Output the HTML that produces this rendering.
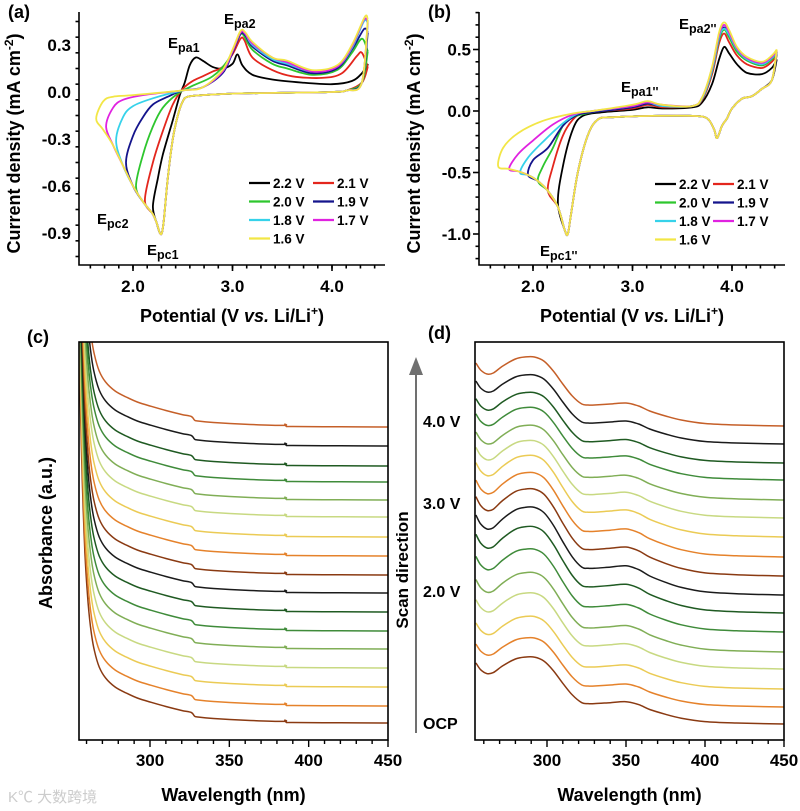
<!DOCTYPE html>
<html><head><meta charset="utf-8"><style>
body{margin:0;background:#fff}
svg{display:block;font-family:"Liberation Sans","Noto Sans CJK SC",sans-serif;font-weight:bold}
</style></head><body>
<svg id="fig" width="800" height="811" viewBox="0 0 800 811" xmlns="http://www.w3.org/2000/svg">
<rect width="800" height="811" fill="#fff"/>
<g id="pa"></g>
<g id="pb"></g>
<g id="pc"></g>
<g id="pd"></g>
<text x="8" y="802" font-size="15" fill="#ccc" font-weight="normal">K℃ 大数跨境</text>
</svg>
<script>
// ---------- DATA ----------
const cvLabels = ["2.2 V","2.1 V","2.0 V","1.9 V","1.8 V","1.7 V","1.6 V"];
const cvColors = ["#000000","#e3261d","#2ec62e","#14148c","#36d2ea","#e022e0","#f2e646"];
const aCath = [[4.3,0.06],[4.15,0.01],[4.0,0],[3.5,-0.005],[3.0,-0.01],[2.7,-0.02],[2.55,-0.03],[2.5,-0.06],[2.45,-0.15],[2.4,-0.3],[2.35,-0.55],[2.31,-0.82],[2.29,-0.9],[2.27,-0.9],[2.24,-0.84],[2.2,-0.78],[2.1,-0.7],[2.0,-0.6],[1.9,-0.47],[1.8,-0.34],[1.7,-0.24],[1.63,-0.17]];
const aVertex = [2.2,2.12,2.03,1.93,1.83,1.73,1.63];
const aAn22 = [[2.2,-0.73],[2.25,-0.55],[2.3,-0.4],[2.4,-0.18],[2.47,-0.02],[2.52,0.06],[2.57,0.17],[2.63,0.22],[2.7,0.2],[2.8,0.16],[2.9,0.15],[3.0,0.18],[3.05,0.24],[3.1,0.17],[3.2,0.11],[3.4,0.08],[3.7,0.06],[4.0,0.05],[4.2,0.07],[4.3,0.12],[4.36,0.18]];
const aAn21 = [[2.12,-0.69],[2.2,-0.45],[2.3,-0.25],[2.4,-0.08],[2.5,0.02],[2.6,0.07],[2.7,0.1],[2.8,0.13],[2.9,0.16],[3.0,0.24],[3.08,0.34],[3.12,0.33],[3.2,0.22],[3.4,0.14],[3.6,0.1],[3.9,0.09],[4.1,0.12],[4.25,0.23],[4.3,0.25],[4.36,0.16]];
const aAn20 = [[2.03,-0.6],[2.1,-0.4],[2.2,-0.22],[2.3,-0.1],[2.45,-0.01],[2.6,0.04],[2.8,0.1],[2.95,0.2],[3.05,0.33],[3.1,0.37],[3.2,0.27],[3.4,0.18],[3.55,0.15],[3.8,0.11],[4.05,0.14],[4.2,0.25],[4.3,0.34],[4.36,0.26]];
const aAn19 = [[1.93,-0.45],[2.0,-0.28],[2.1,-0.16],[2.2,-0.08],[2.35,-0.03],[2.5,0.01],[2.7,0.03],[2.9,0.12],[3.0,0.25],[3.08,0.37],[3.13,0.36],[3.2,0.29],[3.4,0.2],[3.55,0.17],[3.8,0.12],[4.05,0.15],[4.2,0.27],[4.32,0.4],[4.36,0.38]];
const aAn18 = [[1.83,-0.31],[1.9,-0.16],[2.0,-0.09],[2.2,-0.04],[2.5,0.01],[2.7,0.03],[2.9,0.13],[3.0,0.26],[3.08,0.38],[3.13,0.37],[3.2,0.3],[3.4,0.21],[3.55,0.18],[3.8,0.13],[4.05,0.16],[4.2,0.28],[4.32,0.45],[4.36,0.44]];
const aAn17 = [[1.73,-0.22],[1.8,-0.1],[1.9,-0.05],[2.1,-0.02],[2.5,0.01],[2.7,0.03],[2.9,0.13],[3.0,0.26],[3.08,0.38],[3.13,0.37],[3.2,0.31],[3.4,0.22],[3.55,0.19],[3.8,0.13],[4.05,0.16],[4.2,0.29],[4.32,0.46],[4.36,0.45]];
const aAn16 = [[1.63,-0.17],[1.7,-0.06],[1.8,-0.03],[2.0,-0.02],[2.5,0.01],[2.7,0.03],[2.9,0.14],[3.0,0.27],[3.08,0.39],[3.13,0.38],[3.2,0.32],[3.4,0.22],[3.55,0.2],[3.8,0.14],[4.05,0.17],[4.2,0.3],[4.33,0.48],[4.36,0.46]];
const bCath = [[4.4,0.25],[4.3,0.18],[4.2,0.12],[4.1,0.1],[4.0,0.02],[3.95,-0.06],[3.9,-0.12],[3.85,-0.22],[3.82,-0.15],[3.75,-0.06],[3.6,-0.04],[3.2,-0.04],[2.8,-0.05],[2.65,-0.07],[2.55,-0.2],[2.45,-0.5],[2.38,-0.85],[2.35,-1.0],[2.32,-0.97],[2.25,-0.78],[2.15,-0.65],[2.05,-0.57],[1.95,-0.52],[1.85,-0.49],[1.75,-0.47],[1.65,-0.45]];
const bVertex = [2.25,2.15,2.05,1.95,1.87,1.76,1.65];
const bAn22 = [[2.25,-0.75],[2.3,-0.45],[2.4,-0.15],[2.5,-0.04],[2.7,-0.01],[3.0,0.01],[3.15,0.03],[3.3,0.02],[3.6,0.03],[3.7,0.07],[3.8,0.22],[3.87,0.42],[3.92,0.52],[3.97,0.47],[4.05,0.38],[4.15,0.31],[4.3,0.3],[4.4,0.35],[4.45,0.42]];
const bAn21 = [[2.15,-0.65],[2.2,-0.45],[2.3,-0.2],[2.4,-0.07],[2.5,-0.02],[2.7,0],[3.0,0.02],[3.15,0.05],[3.3,0.03],[3.6,0.04],[3.7,0.09],[3.8,0.3],[3.87,0.55],[3.92,0.63],[3.97,0.56],[4.05,0.45],[4.15,0.38],[4.3,0.35],[4.4,0.4],[4.45,0.46]];
const bAn20 = [[2.05,-0.57],[2.1,-0.45],[2.2,-0.3],[2.3,-0.12],[2.4,-0.05],[2.6,-0.01],[3.0,0.03],[3.15,0.06],[3.3,0.04],[3.6,0.04],[3.7,0.1],[3.8,0.32],[3.87,0.58],[3.92,0.66],[3.97,0.6],[4.05,0.48],[4.15,0.41],[4.3,0.37],[4.4,0.42],[4.45,0.47]];
const bAn19 = [[1.95,-0.52],[2.0,-0.4],[2.15,-0.3],[2.3,-0.12],[2.45,-0.03],[2.6,-0.01],[3.0,0.03],[3.15,0.06],[3.3,0.04],[3.6,0.04],[3.7,0.1],[3.8,0.33],[3.87,0.6],[3.92,0.68],[3.97,0.62],[4.05,0.5],[4.15,0.42],[4.3,0.38],[4.4,0.43],[4.45,0.48]];
const bAn18 = [[1.87,-0.5],[1.95,-0.38],[2.1,-0.25],[2.3,-0.1],[2.45,-0.02],[2.6,0],[3.0,0.04],[3.15,0.07],[3.3,0.04],[3.6,0.04],[3.7,0.1],[3.8,0.33],[3.87,0.6],[3.92,0.67],[3.97,0.62],[4.05,0.5],[4.15,0.42],[4.3,0.38],[4.4,0.43],[4.45,0.48]];
const bAn17 = [[1.76,-0.47],[1.85,-0.35],[2.0,-0.24],[2.2,-0.11],[2.4,-0.03],[2.6,0],[3.0,0.04],[3.15,0.07],[3.3,0.05],[3.6,0.04],[3.7,0.11],[3.8,0.35],[3.87,0.62],[3.92,0.7],[3.97,0.64],[4.05,0.51],[4.15,0.43],[4.3,0.39],[4.4,0.44],[4.45,0.49]];
const bAn16 = [[1.65,-0.45],[1.7,-0.3],[1.85,-0.18],[2.1,-0.08],[2.4,-0.02],[2.6,0],[3.0,0.05],[3.15,0.08],[3.3,0.05],[3.6,0.04],[3.7,0.11],[3.8,0.36],[3.87,0.64],[3.92,0.72],[3.97,0.66],[4.05,0.52],[4.15,0.44],[4.3,0.4],[4.4,0.45],[4.45,0.5]];
const specColors = ["#8a3a12","#e5822b","#ebcb55","#c8d982","#80ae56","#3f8b3a","#1f5a22","#1b1b1b","#8a3a12","#e5822b","#ebcb55","#c8d982","#80ae56","#3f8b3a","#1f5a22","#1b1b1b","#c55f28"];
const cWl = [255,257,259,261,263,265,268,272,278,285,292,300,310,320,326,328,330,340,360,384,385,386,390,420,450];
const cProfile = [4.0,2.6,1.7,1.2,0.9,0.72,0.56,0.45,0.36,0.3,0.25,0.21,0.165,0.125,0.105,0.07,0.06,0.045,0.028,0.016,0.028,0.006,0.005,0.002,0];
const cOffsets = [0.17,0.34,0.53,0.72,0.91,1.09,1.28,1.47,1.65,1.84,2.03,2.23,2.40,2.58,2.74,2.94,3.13];
const dWl = [255,258,262,266,272,280,286,292,298,304,310,316,322,326,330,340,350,358,365,375,385,400,420,450];
const dProfile = [0.63,0.56,0.52,0.53,0.6,0.67,0.69,0.69,0.65,0.55,0.42,0.3,0.22,0.21,0.21,0.22,0.23,0.2,0.15,0.1,0.06,0.025,0.01,0];
const dOffsets = [0.16,0.33,0.51,0.71,0.88,1.08,1.27,1.45,1.64,1.83,2.03,2.22,2.40,2.60,2.77,2.96,3.14];
const dAmps = [0.97,1.0,1.05,1.1,1.15,1.2,1.25,1.27,1.26,1.22,1.18,1.12,1.08,1.05,1.02,1.0,1.0];

const NS="http://www.w3.org/2000/svg";
function el(parent,tag,attrs,text){const e=document.createElementNS(NS,tag);for(const k in attrs)e.setAttribute(k,attrs[k]);if(text!==undefined)e.textContent=text;parent.appendChild(e);return e;}
function smooth(pts){if(pts.length<2)return "";let d="M"+pts[0][0].toFixed(1)+","+pts[0][1].toFixed(1);
 for(let i=0;i<pts.length-1;i++){const p0=pts[i-1]||pts[i],p1=pts[i],p2=pts[i+1],p3=pts[i+2]||p2;
  const c1=[p1[0]+(p2[0]-p0[0])/6,p1[1]+(p2[1]-p0[1])/6],c2=[p2[0]-(p3[0]-p1[0])/6,p2[1]-(p3[1]-p1[1])/6];
  d+="C"+c1[0].toFixed(1)+","+c1[1].toFixed(1)+" "+c2[0].toFixed(1)+","+c2[1].toFixed(1)+" "+p2[0].toFixed(1)+","+p2[1].toFixed(1);}return d;}
function lin(d0,d1,r0,r1){return v=>r0+(v-d0)*(r1-r0)/(d1-d0);}

function cvPanel(g,o){
 const X=lin(2,4,o.x2,o.x4),Y=lin(0,o.yv,o.y0,o.yvPx);
 const L=o.left,B=o.bottom,T=o.top,R=o.right;
 const ax=el(g,"g",{stroke:"#000","stroke-width":1.6,fill:"none"});
 
 
 el(ax,"path",{d:`M${L},${T}V${B}H${R}`});
 for(let v=o.yMin;v<=o.yMax+1e-9;v+=o.yMinor){const y=Y(v);if(y<T||y>B)continue;const maj=Math.abs(Math.round(v/o.yMajor)*o.yMajor-v)<1e-6;el(ax,"line",{x1:L,x2:L-(maj?6:3.5),y1:y,y2:y});}
 o.yTicks.forEach(v=>{const t=el(g,"text",{x:L-8,y:Y(v)+6,"font-size":17,"text-anchor":"end"},v.toFixed(1));});
 for(let v=1.6;v<=4.5;v+=1/7){const xv=Math.round(v*7)/7,x=X(xv);if(x<L+3||x>R)continue;el(ax,"line",{x1:x,x2:x,y1:B,y2:B+3.5});}
 [2,3,4].forEach(v=>{el(ax,"line",{x1:X(v),x2:X(v),y1:B,y2:B+6});const t=el(g,"text",{x:X(v),y:B+27,"font-size":17,"text-anchor":"middle"},v.toFixed(1));});
 o.anodic.forEach((an,i)=>{const vtx=o.vertex[i];
  const cath=o.cath.filter(p=>p[0]>vtx+0.005);
  const top=an[an.length-1];
  const pts=[top].concat(cath).concat(an).map(p=>[X(p[0]),Y(p[1])]);
  const p=el(g,"path",{d:smooth(pts),fill:"none",stroke:cvColors[i],"stroke-width":1.8,"stroke-linejoin":"round"});
  
  });
 cvLabels.forEach((lab,i)=>{const col=i%2,row=Math.floor(i/2);const lx=o.legX+col*o.legDx,ly=o.legY+row*18.5;
  const lg=el(g,"g",{});
  
  
  el(lg,"line",{x1:lx,x2:lx+21,y1:ly,y2:ly,stroke:cvColors[i],"stroke-width":2.2});
  el(lg,"text",{x:lx+24,y:ly+5,"font-size":13.5},lab);});
 const yt=el(g,"text",{transform:`translate(${o.ytX},${(T+B)/2+5}) rotate(-90)`,"font-size":18,"text-anchor":"middle"});
 
 yt.innerHTML='Current density (mA cm<tspan dy="-7" font-size="12">-2</tspan><tspan dy="7">)</tspan>';
 const xt=el(g,"text",{x:(L+R)/2,y:B+57,"font-size":18,"text-anchor":"middle"});
 
 xt.innerHTML='Potential (V <tspan font-style="italic">vs.</tspan> Li/Li<tspan dy="-7" font-size="12">+</tspan><tspan dy="7">)</tspan>';
 const pl=el(g,"text",{x:o.letX,y:o.letY,"font-size":18},o.letter);
 
 o.ann.forEach(a=>{const t=el(g,"text",{x:a[0],y:a[1],"font-size":15});t.innerHTML='E<tspan dy="4" font-size="12.5">'+a[2]+'</tspan>';
  });
}
cvPanel(document.getElementById('pa'),{x2:133,x4:332,y0:92,yv:-0.9,yvPx:233,left:79,right:385,top:12,bottom:265,
 yMin:-1.05,yMax:0.5,yMinor:0.1,yMajor:0.3,yTicks:[0.3,0,-0.3,-0.6,-0.9],cath:aCath,vertex:aVertex,
 anodic:[aAn22,aAn21,aAn20,aAn19,aAn18,aAn17,aAn16],legX:249,legDx:64,legY:183,ytX:20,letter:"(a)",letX:8,letY:18,
 ann:[[168,48,"pa1"],[224,24,"pa2"],[97,224,"pc2"],[147,255,"pc1"]]});
cvPanel(document.getElementById('pb'),{x2:533,x4:732,y0:111,yv:-1.0,yvPx:234,left:479,right:785,top:12,bottom:265,
 yMin:-1.2,yMax:0.8,yMinor:0.1,yMajor:0.5,yTicks:[0.5,0,-0.5,-1.0],cath:bCath,vertex:bVertex,
 anodic:[bAn22,bAn21,bAn20,bAn19,bAn18,bAn17,bAn16],legX:655,legDx:58,legY:184,ytX:420,letter:"(b)",letX:428,letY:18,
 ann:[[679,29,"pa2''"],[621,92,"pa1''"],[540,256,"pc1''"]]});

function specPanel(g,o){
 const X=lin(300,450,o.x300,o.x450),Y=v=>o.bottom-v*100;
 const L=o.left,R=o.right,T=o.top,B=o.bottom;
 const cp=el(g,"clipPath",{id:o.id+"clip"});el(cp,"rect",{x:L,y:T,width:R-L,height:B-T});
 const cg=el(g,"g",{"clip-path":`url(#${o.id}clip)`});
 o.offsets.forEach((off,i)=>{const pts=o.wl.map((w,k)=>[X(w),Y(off+o.prof[k]*(o.amps?o.amps[i]:1))]);
  const p=el(cg,"path",{d:smooth(pts),fill:"none",stroke:specColors[i],"stroke-width":1.5});
  
  });
 const ax=el(g,"rect",{x:L,y:T,width:R-L,height:B-T,fill:"none",stroke:"#000","stroke-width":1.6});
 
 for(let w=260;w<=450;w+=10){const maj=w%50===0;el(g,"line",{x1:X(w),x2:X(w),y1:B,y2:B+(maj?7:4),stroke:"#000","stroke-width":1.4});}
 [300,350,400,450].forEach(w=>{const t=el(g,"text",{x:X(w),y:B+26,"font-size":17,"text-anchor":"middle"},String(w));});
 const xt=el(g,"text",{x:(L+R)/2,y:B+61,"font-size":18,"text-anchor":"middle"},"Wavelength (nm)");
 
 const pl=el(g,"text",{x:o.letX,y:o.letY,"font-size":18},o.letter);
 
}
specPanel(document.getElementById('pc'),{id:"c",x300:150,x450:388,left:79,right:388,top:342,bottom:740,wl:cWl,prof:cProfile,offsets:cOffsets,letter:"(c)",letX:27,letY:343});
specPanel(document.getElementById('pd'),{id:"d",x300:547,x450:784,left:475,right:784,top:342,bottom:740,wl:dWl,prof:dProfile,offsets:dOffsets,amps:dAmps,letter:"(d)",letX:428,letY:339});
const pc=document.getElementById('pc');
const yc=el(pc,"text",{transform:"translate(52,533) rotate(-90)","font-size":18,"text-anchor":"middle"},"Absorbance (a.u.)");

const pd=document.getElementById('pd');
const arr=el(pd,"g",{});

el(arr,"line",{x1:416,x2:416,y1:733,y2:370,stroke:"#707070","stroke-width":2});
el(arr,"path",{d:"M409,375 L416,357 L423,375 Z",fill:"#707070"});
const sd=el(pd,"text",{transform:"translate(408,570) rotate(-90)","font-size":17,"text-anchor":"middle"},"Scan direction");

[["4.0 V",427],["3.0 V",509],["2.0 V",597],["OCP",729]].forEach(a=>{const t=el(pd,"text",{x:423,y:a[1],"font-size":16},a[0]);
 });
</script>
</body></html>
